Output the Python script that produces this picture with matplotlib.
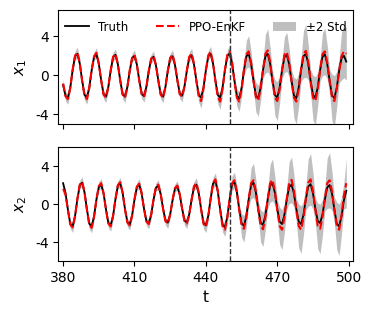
import numpy as np
import matplotlib
matplotlib.use("Agg")
import matplotlib.pyplot as plt

plt.rcParams["axes.unicode_minus"] = False

# time axis (one sample per step)
t = np.arange(380, 500)
t_switch = 450  # end of assimilation window

x1_truth = [
    -1.0, -2.1, -2.35, -1.27, 0.53, 1.94, 2.2, 1.19, -0.55, -2.02,
    -2.3, -1.24, 0.52, 1.89, 2.15, 1.16, -0.53, -1.94, -2.2, -1.19,
    0.5, 1.85, 2.1, 1.13, -0.53, -1.94, -2.2, -1.19, 0.48, 1.76,
    2.0, 1.08, -0.52, -1.89, -2.15, -1.16, 0.46, 1.67, 1.9, 1.03,
    -0.53, -1.94, -2.2, -1.19, 0.47, 1.72, 1.95, 1.05, -0.5, -1.85,
    -2.1, -1.13, 0.49, 1.8, 2.05, 1.11, -0.55, -2.02, -2.3, -1.24,
    0.53, 1.94, 2.2, 1.19, -0.55, -2.02, -2.3, -1.24, 0.54, 1.98,
    2.25, 1.22, -0.58, -2.11, -2.4, -1.3, 0.53, 1.94, 2.2, 1.19,
    -0.56, -2.07, -2.35, -1.27, 0.53, 1.94, 2.2, 1.19, -0.55, -2.02,
    -2.3, -1.24, 0.5, 1.85, 2.1, 1.13, -0.56, -2.07, -2.35, -1.27,
    0.53, 1.94, 2.2, 1.19, -0.55, -2.02, -2.3, -1.24, 0.52, 1.89,
    2.15, 1.16, -0.56, -2.07, -2.35, -1.27, 0.48, 1.76, 2.0, 1.4,
]
x1_est = [
    -0.85, -2.15, -2.45, -1.3, 0.55, 2.0, 2.35, 1.25, -0.6, -2.1,
    -2.45, -1.3, 0.55, 1.95, 2.3, 1.2, -0.55, -2.0, -2.3, -1.2,
    0.5, 1.9, 2.2, 1.15, -0.55, -2.0, -2.3, -1.2, 0.5, 1.8,
    2.1, 1.1, -0.55, -1.95, -2.25, -1.2, 0.45, 1.7, 2.0, 1.05,
    -0.55, -2.0, -2.3, -1.2, 0.5, 1.8, 2.1, 1.1, -0.5, -1.95,
    -2.2, -1.15, 0.5, 1.9, 2.2, 1.15, -0.6, -2.2, -2.65, -1.35,
    0.55, 2.05, 2.4, 1.25, -0.6, -2.25, -2.7, -1.4, 0.55, 2.1,
    2.45, 1.3, -0.62, -2.3, -2.7, -1.45, 0.6, 2.15, 2.45, 1.3,
    -0.62, -2.25, -2.6, -1.4, 0.6, 2.2, 2.55, 1.35, -0.62, -2.3,
    -2.65, -1.42, 0.58, 2.1, 2.4, 1.28, -0.62, -2.3, -2.7, -1.45,
    0.6, 2.15, 2.5, 1.35, -0.62, -2.3, -2.65, -1.42, 0.6, 2.15,
    2.45, 1.32, -0.62, -2.3, -2.65, -1.42, 0.45, 1.95, 2.45, 2.2,
]
x1_std = [
    0.22, 0.25, 0.26, 0.2, 0.16, 0.22, 0.26, 0.2, 0.16, 0.22,
    0.26, 0.2, 0.16, 0.22, 0.25, 0.2, 0.16, 0.22, 0.25, 0.2,
    0.16, 0.22, 0.25, 0.2, 0.16, 0.22, 0.25, 0.2, 0.16, 0.22,
    0.25, 0.2, 0.16, 0.22, 0.25, 0.2, 0.16, 0.22, 0.25, 0.2,
    0.16, 0.22, 0.26, 0.2, 0.16, 0.22, 0.25, 0.2, 0.16, 0.22,
    0.26, 0.2, 0.17, 0.24, 0.28, 0.22, 0.18, 0.3, 0.36, 0.26,
    0.18, 0.24, 0.28, 0.22, 0.2, 0.34, 0.4, 0.28, 0.18, 0.25,
    0.3, 0.3, 0.28, 0.45, 0.5, 0.38, 0.32, 0.72, 0.8, 0.58,
    0.4, 0.75, 0.8, 0.6, 0.45, 1.0, 1.1, 0.75, 0.5, 0.92,
    1.0, 0.7, 0.5, 0.92, 1.0, 0.72, 0.55, 1.05, 1.15, 0.82,
    0.6, 1.22, 1.35, 0.9, 0.6, 1.15, 1.25, 0.85, 0.58, 1.1,
    1.2, 0.85, 0.6, 1.2, 1.3, 0.9, 0.62, 1.22, 1.35, 1.35,
]

x2_truth = [
    2.2, 1.19, -0.56, -2.07, -2.35, -1.27, 0.54, 1.98, 2.25, 1.22,
    -0.56, -2.07, -2.35, -1.27, 0.49, 1.8, 2.05, 1.11, -0.54, -1.98,
    -2.25, -1.22, 0.53, 1.94, 2.2, 1.19, -0.52, -1.89, -2.15, -1.16,
    0.49, 1.8, 2.05, 1.11, -0.49, -1.8, -2.05, -1.11, 0.47, 1.72,
    1.95, 1.05, -0.47, -1.72, -1.95, -1.05, 0.44, 1.63, 1.85, 1.0,
    -0.47, -1.72, -1.95, -1.05, 0.49, 1.8, 2.05, 1.11, -0.54, -1.98,
    -2.25, -1.22, 0.59, 2.16, 2.45, 1.32, -0.59, -2.16, -2.45, -1.32,
    0.56, 2.07, 2.35, 1.27, -0.55, -2.02, -2.3, -1.24, 0.54, 1.98,
    2.25, 1.22, -0.53, -1.94, -2.2, -1.19, 0.53, 1.94, 2.2, 1.19,
    -0.5, -1.85, -2.1, -1.13, 0.49, 1.8, 2.05, 1.11, -0.5, -1.85,
    -2.1, -1.13, 0.5, 1.85, 2.1, 1.13, -0.48, -1.76, -2.0, -1.08,
    0.48, 1.76, 2.0, 1.08, -0.56, -2.07, -2.35, -1.27, 0.4, 1.4,
]
x2_est = [
    1.6, 1.05, -0.6, -2.15, -2.45, -1.3, 0.55, 2.05, 2.35, 1.25,
    -0.6, -2.2, -2.5, -1.35, 0.5, 1.9, 2.2, 1.15, -0.55, -2.05,
    -2.35, -1.25, 0.55, 2.0, 2.3, 1.2, -0.55, -1.95, -2.25, -1.2,
    0.5, 1.85, 2.15, 1.15, -0.5, -1.85, -2.1, -1.15, 0.5, 1.8,
    2.05, 1.1, -0.5, -1.8, -2.05, -1.1, 0.45, 1.7, 1.95, 1.05,
    -0.5, -1.8, -2.05, -1.1, 0.5, 1.9, 2.2, 1.2, -0.6, -2.1,
    -2.4, -1.3, 0.6, 2.25, 2.6, 1.4, -0.65, -2.35, -2.7, -1.45,
    0.6, 2.2, 2.5, 1.35, -0.6, -2.25, -2.6, -1.4, 0.6, 2.2,
    2.5, 1.35, -0.6, -2.3, -2.65, -1.42, 0.6, 2.2, 2.55, 1.38,
    -0.62, -2.3, -2.7, -1.45, 0.6, 2.25, 2.55, 1.38, -0.62, -2.3,
    -2.7, -1.45, 0.6, 2.25, 2.6, 1.4, -0.62, -2.3, -2.6, -1.4,
    0.6, 2.2, 2.5, 1.35, -0.62, -2.3, -2.7, -1.2, 0.9, 2.2,
]
x2_std = [
    0.26, 0.2, 0.16, 0.22, 0.26, 0.2, 0.16, 0.22, 0.26, 0.2,
    0.16, 0.22, 0.26, 0.2, 0.16, 0.22, 0.25, 0.2, 0.16, 0.22,
    0.25, 0.2, 0.16, 0.22, 0.25, 0.2, 0.16, 0.22, 0.25, 0.2,
    0.16, 0.22, 0.25, 0.2, 0.16, 0.22, 0.25, 0.2, 0.16, 0.22,
    0.25, 0.2, 0.16, 0.22, 0.25, 0.2, 0.16, 0.22, 0.25, 0.2,
    0.16, 0.22, 0.26, 0.2, 0.17, 0.24, 0.28, 0.22, 0.18, 0.26,
    0.3, 0.22, 0.2, 0.28, 0.34, 0.24, 0.2, 0.3, 0.35, 0.3,
    0.25, 0.38, 0.43, 0.35, 0.3, 0.62, 0.7, 0.5, 0.4, 0.82,
    0.9, 0.62, 0.45, 0.85, 0.9, 0.65, 0.5, 1.0, 1.1, 0.75,
    0.52, 0.98, 1.05, 0.75, 0.55, 1.1, 1.2, 0.85, 0.6, 1.15,
    1.25, 0.88, 0.62, 1.25, 1.35, 0.95, 0.65, 1.2, 1.3, 0.92,
    0.65, 1.33, 1.45, 1.0, 0.68, 1.25, 1.35, 0.95, 0.7, 1.3,
]

series = [
    (x1_truth, x1_est, x1_std, "$x_1$", (-5, 6.7)),
    (x2_truth, x2_est, x2_std, "$x_2$", (-6, 6)),
]

fig = plt.figure(figsize=(3.74, 3.2), dpi=100)
ax_top = fig.add_axes([0.156, 0.6125, 0.789, 0.3565])
ax_bot = fig.add_axes([0.156, 0.184, 0.789, 0.3565], sharex=ax_top)

for ax, (truth, est, std, lab, ylim) in zip([ax_top, ax_bot], series):
    est = np.array(est)
    std = np.array(std)
    ax.fill_between(t, est - 2 * std, est + 2 * std, color="gray", alpha=0.5,
                    linewidth=0, label="±2 Std")
    ax.plot(t, truth, color="k", lw=1.3, label="Truth")
    ax.plot(t, est, color="red", ls="--", lw=1.5, label="PPO-EnKF")
    ax.axvline(t_switch, color="#333333", ls="--", lw=1)
    ax.set_ylim(*ylim)
    ax.set_yticks([-4, 0, 4])
    ax.set_ylabel(lab, fontsize=11)
    ax.tick_params(labelsize=10)

ax_top.set_xlim(378, 502)
ax_bot.set_xticks([380, 410, 440, 470, 500])
ax_top.tick_params(labelbottom=False)
ax_bot.set_xlabel("t", fontsize=11)

h, l = ax_top.get_legend_handles_labels()
order = [1, 2, 0]
ax_top.legend([h[i] for i in order], [l[i] for i in order], loc="upper center",
              ncol=3, frameon=False, fontsize=8.5, columnspacing=2.3)

fig.savefig("out.png", dpi=100)
